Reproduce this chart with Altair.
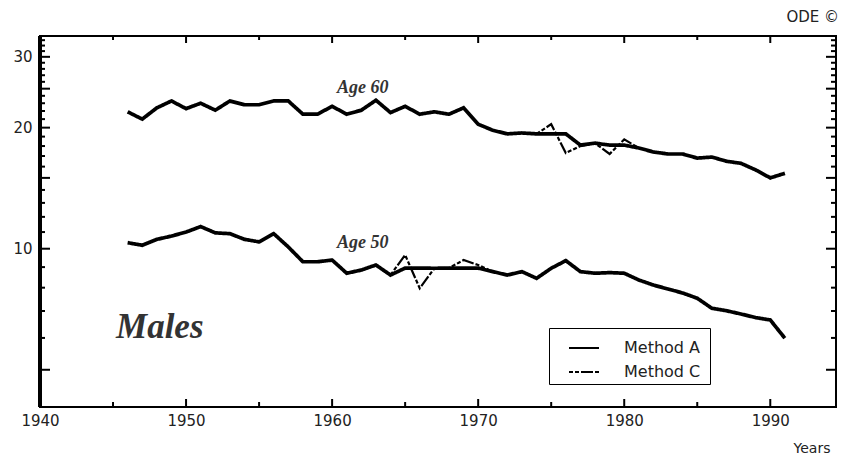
import altair as alt
import pandas as pd

# Annual series, 1946-1991
years = list(range(1946, 1992))

age60_method_a = [21.9, 21.0, 22.4, 23.3, 22.3, 23.0, 22.1, 23.3, 22.8, 22.8,
                  23.3, 23.3, 21.6, 21.6, 22.6, 21.6, 22.1, 23.4, 21.8, 22.6,
                  21.6, 21.9, 21.6, 22.4, 20.4, 19.7, 19.3, 19.4, 19.3, 19.3,
                  19.3, 18.1, 18.3, 18.1, 18.1, 17.8, 17.4, 17.2, 17.2, 16.8,
                  16.9, 16.5, 16.3, 15.7, 15.0, 15.4]

age50_method_a = [10.35, 10.2, 10.55, 10.75, 11.0, 11.35, 10.95, 10.9, 10.55, 10.4,
                  10.9, 10.1, 9.28, 9.28, 9.37, 8.69, 8.85, 9.11, 8.6, 8.95,
                  8.95, 8.94, 8.95, 8.95, 8.95, 8.77, 8.6, 8.77, 8.44, 8.94,
                  9.34, 8.77, 8.69, 8.72, 8.69, 8.36, 8.12, 7.94, 7.76, 7.53,
                  7.11, 7.01, 6.88, 6.74, 6.65, 5.99]

# Method C, only where it departs from Method A
age60_c_years = [1974, 1975, 1976, 1977, 1978, 1979, 1980, 1981]
age60_method_c = [19.3, 20.4, 17.3, 18.0, 18.3, 17.2, 18.7, 17.8]
age50_c_years = [1964, 1965, 1966, 1967, 1968, 1969, 1970, 1971]
age50_method_c = [8.6, 9.65, 7.97, 8.94, 8.95, 9.37, 9.11, 8.77]

# In-plot annotations
series_labels = ["Age 60", "Age 50"]
series_label_year = [1962.1, 1962.1]
series_label_value = [25.1, 10.33]
panel_label = ["Males"]
panel_label_year = [1948.2]
panel_label_value = [6.39]

# Axis ticks
x_label_values = [1940, 1950, 1960, 1970, 1980, 1990]
x_major_ticks = [1950, 1960, 1970, 1980, 1990]
x_minor_ticks = [1945, 1955, 1965, 1975, 1985]
y_label_values = [10, 20, 30]
y_major_ticks = [5, 10, 15, 20, 25, 30]
y_minor_ticks = [6, 7, 8, 9, 11, 12, 13, 14, 16, 17, 18, 19,
                 21, 22, 23, 24, 26, 27, 28, 29, 31, 32, 33]

W, H = 796, 371
SANS = "DejaVu Sans"
SERIF = "Liberation Serif"

df_a = pd.concat([
    pd.DataFrame({"year": years, "value": age60_method_a, "age": "60", "method": "Method A"}),
    pd.DataFrame({"year": years, "value": age50_method_a, "age": "50", "method": "Method A"}),
])
df_c = pd.concat([
    pd.DataFrame({"year": age60_c_years, "value": age60_method_c, "age": "60", "method": "Method C"}),
    pd.DataFrame({"year": age50_c_years, "value": age50_method_c, "age": "50", "method": "Method C"}),
])

x_scale = alt.Scale(domain=[1940, 1994.5], nice=False, zero=False)
y_scale = alt.Scale(type="log", domain=[4.04, 33.8], nice=False)
dash_scale = alt.Scale(domain=["Method A", "Method C"],
                       range=[[1, 0], [4, 2, 4, 2, 12, 2]])

x_axis = alt.Axis(values=x_label_values, format="d", grid=False, ticks=False,
                  domain=False, labelFont=SANS, labelFontSize=15, labelColor="#222",
                  labelPadding=6, title="Years", titleFont=SANS, titleFontSize=14,
                  titleFontWeight="normal", titleColor="#222", titleX=790, titleY=41,
                  titleAlign="right", titleBaseline="middle", labelFlush=False)
y_axis = alt.Axis(values=y_label_values, format="d", grid=False, ticks=False,
                  domain=False, labelFont=SANS, labelFontSize=15, labelColor="#222",
                  labelPadding=8, title=None)

# Blank right-hand title pads the legend box out to the right
legend = alt.Legend(orient="none", legendX=509, legendY=292, title="\u2003\u2003",
                    titleOrient="right", titleFontSize=15, titlePadding=6,
                    strokeColor="black", fillColor="white", padding=4,
                    labelFont=SANS, labelFontSize=16, labelColor="#222",
                    symbolType="stroke", symbolSize=900, symbolStrokeColor="black",
                    symbolStrokeWidth=2, symbolOffset=15, labelOffset=24,
                    rowPadding=-5, cornerRadius=0)


def xq(field):
    return alt.X(f"{field}:Q", scale=x_scale, axis=x_axis)


def yq(field):
    return alt.Y(f"{field}:Q", scale=y_scale, axis=y_axis)


lines_c = alt.Chart(df_c).mark_line(color="black", strokeWidth=2.2).encode(
    x=xq("year"), y=yq("value"),
    strokeDash=alt.StrokeDash("method:N", scale=dash_scale, legend=legend),
    detail="age:N",
)
lines_a = alt.Chart(df_a).mark_line(color="black", strokeWidth=3.7).encode(
    x=xq("year"), y=yq("value"),
    strokeDash=alt.StrokeDash("method:N", scale=dash_scale, legend=legend),
    detail="age:N",
)


def y_ticks(vals, x0, x1):
    return alt.Chart(pd.DataFrame({"value": vals})).mark_rule(color="black", strokeWidth=2).encode(
        y=yq("value"), x=alt.value(x0), x2=alt.value(x1))


def x_ticks(vals, y0, y1):
    return alt.Chart(pd.DataFrame({"year": vals})).mark_rule(color="black", strokeWidth=2).encode(
        x=xq("year"), y=alt.value(y0), y2=alt.value(y1))


ticks = [
    y_ticks(y_major_ticks, 0, 10), y_ticks(y_minor_ticks, 0, 5),
    y_ticks(y_major_ticks, W, W - 10), y_ticks(y_minor_ticks, W, W - 5),
    x_ticks(x_major_ticks, H, H - 8), x_ticks(x_minor_ticks, H, H - 5),
    x_ticks(x_major_ticks, 0, 7), x_ticks(x_minor_ticks, 0, 4),
]

left_spine = alt.Chart(pd.DataFrame({"s": [0]})).mark_rule(color="black", strokeWidth=4).encode(
    x=alt.value(0), y=alt.value(0), y2=alt.value(H))

age_text = alt.Chart(pd.DataFrame({
    "label": series_labels, "year": series_label_year, "value": series_label_value
})).mark_text(font=SERIF, fontSize=18, fontStyle="italic", fontWeight="bold",
              color="#333").encode(x=xq("year"), y=yq("value"), text="label:N")

males_text = alt.Chart(pd.DataFrame({
    "label": panel_label, "year": panel_label_year, "value": panel_label_value
})).mark_text(font=SERIF, fontSize=35, fontStyle="italic", fontWeight="bold",
              color="#333").encode(x=xq("year"), y=yq("value"), text="label:N")

credit = alt.Chart(pd.DataFrame({"label": ["ODE ©"]})).mark_text(
    font=SANS, fontSize=15, color="#222", align="right", baseline="middle"
).encode(x=alt.value(W + 3), y=alt.value(-19), text="label:N")

chart = alt.layer(
    lines_c, lines_a, *ticks, left_spine, age_text, males_text, credit
).properties(
    width=W, height=H,
    autosize=alt.AutoSizeParams(type="none"),
    padding={"left": 40, "top": 36, "right": 8, "bottom": 54},
).configure_view(stroke="black", strokeWidth=2)

chart.save("out.html", embed_options={"renderer": "svg", "actions": False})
